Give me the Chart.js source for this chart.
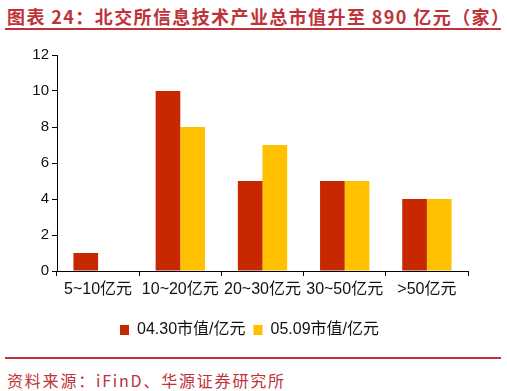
<!DOCTYPE html>
<html><head><meta charset="utf-8">
<script src="https://cdn.jsdelivr.net/npm/chart.js@4"></script>
<style>
html,body{margin:0;padding:0;background:#fff;width:507px;height:391px;overflow:hidden;}
#title{position:absolute;left:7px;top:3px;font-family:"Noto Sans CJK SC";font-weight:bold;font-size:18px;color:#C0323A;white-space:nowrap;letter-spacing:1.4px;}
.rule{position:absolute;left:5px;width:496px;height:2px;background:#C0323A;}
#src{position:absolute;left:7px;top:368px;font-family:"Noto Sans CJK SC";font-size:16px;color:#C0323A;white-space:nowrap;letter-spacing:1.8px;}
#wrap{position:absolute;left:0;top:40px;width:507px;height:308px;}
</style></head><body>
<div id="title">图表 24：北交所信息技术产业总市值升至 890 亿元（家）</div>
<div class="rule" style="top:28px"></div>
<div id="wrap"><canvas id="c"></canvas></div>
<div class="rule" style="top:357px"></div>
<div id="src">资料来源：iFinD、华源证券研究所</div>
<script>
const categories = ["5~10亿元", "10~20亿元", "20~30亿元", "30~50亿元", ">50亿元"];
const seriesNames = ["04.30市值/亿元", "05.09市值/亿元"];
const values0430 = [1, 10, 5, 5, 4];
const values0509 = [0, 8, 7, 5, 4];
const yTicks = [0, 2, 4, 6, 8, 10, 12];

const font = "'Liberation Sans', 'Noto Sans CJK SC', sans-serif";
new Chart(document.getElementById('c'), {
  type: 'bar',
  data: {
    labels: categories,
    datasets: [
      {label: seriesNames[0], data: values0430, backgroundColor: '#C82800'},
      {label: seriesNames[1], data: values0509, backgroundColor: '#FFC000'}
    ]
  },
  options: {
    responsive: true, maintainAspectRatio: false, animation: false,
    layout: {padding: {left: 31, right: 39, top: 15, bottom: 0}},
    plugins: {
      tooltip: {enabled: false},
      legend: {
        position: 'bottom',
        labels: {font: {family: font, size: 16}, color: '#111', boxWidth: 9, boxHeight: 10, padding: 8}
      }
    },
    datasets: {bar: {categoryPercentage: 0.6, barPercentage: 1.0}},
    scales: {
      x: {
        grid: {drawOnChartArea: false, drawTicks: true, tickLength: 5, color: '#000', offset: true},
        border: {display: true, color: '#000', width: 1},
        ticks: {font: {family: font, size: 16}, color: '#111', padding: 4, maxRotation: 0},
        afterFit: s => { s.height = 43; }
      },
      y: {
        min: 0, max: 12,
        afterBuildTicks: s => { s.ticks = yTicks.map(v => ({value: v})); },
        grid: {drawOnChartArea: false, drawTicks: true, tickLength: 5, color: '#000'},
        border: {display: true, color: '#000', width: 1},
        ticks: {font: {family: font, size: 15}, color: '#111', padding: 3},
        afterFit: s => { s.width = 26; }
      }
    }
  }
});
</script>
</body></html>
